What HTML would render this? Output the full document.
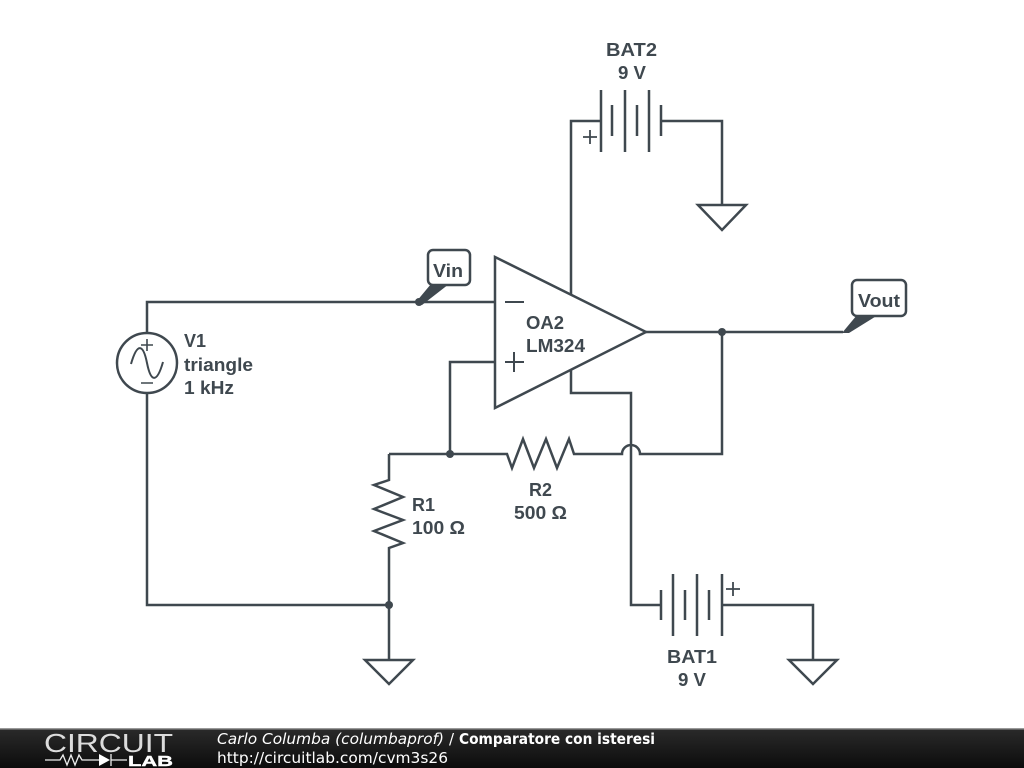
<!DOCTYPE html>
<html><head><meta charset="utf-8"><style>
html,body{margin:0;padding:0;background:#fff;width:1024px;height:768px;overflow:hidden}
svg{display:block}
.w{fill:none;stroke:#3f484f;stroke-width:2.5;stroke-linejoin:miter}
.t{font-family:"Liberation Sans",sans-serif;font-weight:bold;font-size:18px;fill:#3f484f}
.f{font-family:"DejaVu Sans",sans-serif;font-size:15px;fill:#fff}
</style></head><body>
<svg width="1024" height="768" viewBox="0 0 1024 768" xmlns="http://www.w3.org/2000/svg">
<defs><linearGradient id="g" x1="0" y1="0" x2="0" y2="1"><stop offset="0" stop-color="#2a2a2a"/><stop offset="1" stop-color="#0c0c0c"/></linearGradient></defs>
<rect width="1024" height="768" fill="#fff"/>
<g class="w">
<path d="M147 333V302H495"/>
<circle cx="147" cy="363" r="30"/>
<path d="M147 393V605H389"/>
<path d="M131 364C137 343 143 343 147 363C151 383 157 383 163 362" stroke-width="2"/>
<path d="M141 345H153M147 339V351M141 383H153" stroke-width="1.6"/>
<path d="M389 605V660M365 660H413L389 684Z"/>
<path d="M389 454V480L374 485L403 497L374 509L403 520L374 531L403 543L389 548V605"/>
<path d="M389 454H507L512 468L523 439L534 468L546 439L557 468L569 439L574 454H622A9 9 0 0 1 640 454H722V332"/>
<path d="M495 257L646 332L495 408Z"/>
<path d="M505 302H524M505 362H524M514 352V372" stroke-width="2"/>
<path d="M495 362H450V454"/>
<path d="M571 295V121H601M601 90V152M612 105V136M625 90V152M637 105V136M649 90V152M661 105V136M661 121H722V205M698 205H746L722 230Z"/>
<path d="M583 137H597M590 130V144" stroke-width="1.8"/>
<path d="M571 370V393H631V605H661M661 590V620M673 574V636M685 590V620M697 574V636M709 590V620M722 574V636M722 605H813V660M789 660H837L813 684Z"/>
<path d="M726 589H740M733 582V596" stroke-width="1.8"/>
<path d="M646 332H843"/>
<rect x="428" y="250" width="42" height="35" rx="5" fill="#fff"/>
<rect x="852" y="280" width="54" height="36" rx="5" fill="#fff"/>
</g>
<g fill="#3f484f">
<circle cx="419" cy="302" r="4"/><circle cx="450" cy="454" r="4"/><circle cx="389" cy="605" r="4"/><circle cx="722" cy="332" r="4"/>
<path d="M416 302L431 284H449L422 305Z"/>
<path d="M842 333L857 315H878L849 333Z"/>
</g>
<g class="t">
<text x="606" y="56" textLength="51" lengthAdjust="spacingAndGlyphs">BAT2</text>
<text x="618" y="79" textLength="28" lengthAdjust="spacingAndGlyphs">9 V</text>
<text x="184" y="347">V1</text>
<text x="184" y="371" textLength="69" lengthAdjust="spacingAndGlyphs">triangle</text>
<text x="184" y="394" textLength="50" lengthAdjust="spacingAndGlyphs">1 kHz</text>
<text x="433" y="277" textLength="30" lengthAdjust="spacingAndGlyphs">Vin</text>
<text x="858" y="307" textLength="42" lengthAdjust="spacingAndGlyphs">Vout</text>
<text x="526" y="329" textLength="38" lengthAdjust="spacingAndGlyphs">OA2</text>
<text x="526" y="352" textLength="59" lengthAdjust="spacingAndGlyphs">LM324</text>
<text x="412" y="511">R1</text>
<text x="412" y="534" textLength="53" lengthAdjust="spacingAndGlyphs">100 Ω</text>
<text x="529" y="496">R2</text>
<text x="514" y="519" textLength="53" lengthAdjust="spacingAndGlyphs">500 Ω</text>
<text x="667" y="663" textLength="50" lengthAdjust="spacingAndGlyphs">BAT1</text>
<text x="678" y="686" textLength="28" lengthAdjust="spacingAndGlyphs">9 V</text>
</g>
<rect x="0" y="729" width="1024" height="39" fill="url(#g)"/>
<rect x="0" y="728" width="1024" height="1.5" fill="#999"/>
<text x="44" y="752" font-family="'Liberation Sans',sans-serif" font-size="26" fill="#dcdcdc" textLength="129" lengthAdjust="spacingAndGlyphs">CIRCUIT</text>
<path d="M45 760H60L63 755L67 765L71 755L75 765L79 755L82 760H99M111 754V766M111 760H127" fill="none" stroke="#eee" stroke-width="1.3"/>
<path d="M99 754L110 760L99 766Z" fill="#fff"/>
<text x="128" y="766" font-family="'Liberation Sans',sans-serif" font-weight="bold" font-size="15" fill="#fff" stroke="#fff" stroke-width=".4" textLength="45" lengthAdjust="spacingAndGlyphs">LAB</text>
<text class="f" x="217" y="744" font-style="italic" textLength="227" lengthAdjust="spacingAndGlyphs">Carlo Columba (columbaprof)</text>
<text class="f" x="449" y="744">/</text>
<text class="f" x="459" y="744" font-weight="bold" textLength="196" lengthAdjust="spacingAndGlyphs">Comparatore con isteresi</text>
<text class="f" x="217" y="763" textLength="231" lengthAdjust="spacingAndGlyphs">http://circuitlab.com/cvm3s26</text>
</svg>
</body></html>
